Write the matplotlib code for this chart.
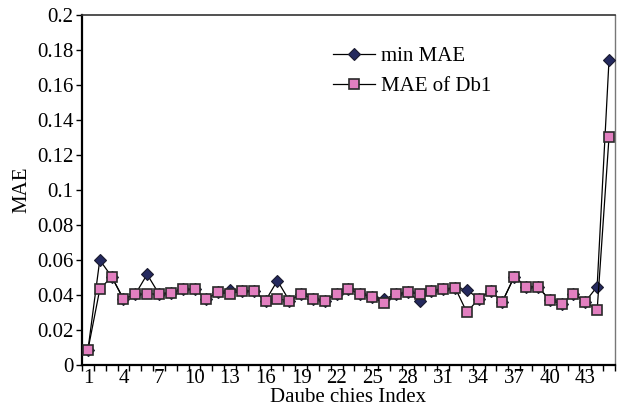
import matplotlib
matplotlib.use("Agg")
import matplotlib.pyplot as plt
import numpy as np

index = list(range(1, 46))

min_mae = [0.0086, 0.0600, 0.0505, 0.0377, 0.0404, 0.0518, 0.0406, 0.0413, 0.0432, 0.0432,
           0.0379, 0.0415, 0.0430, 0.0423, 0.0423, 0.0368, 0.0482, 0.0368, 0.0406, 0.0377,
           0.0368, 0.0406, 0.0432, 0.0406, 0.0387, 0.0375, 0.0406, 0.0415, 0.0366, 0.0425,
           0.0432, 0.0442, 0.0429, 0.0379, 0.0423, 0.0362, 0.0505, 0.0448, 0.0448, 0.0370,
           0.0350, 0.0406, 0.0362, 0.0448, 0.1740]

mae_db1 = [0.0086, 0.0432, 0.0505, 0.0377, 0.0404, 0.0406, 0.0406, 0.0413, 0.0432, 0.0432,
           0.0379, 0.0415, 0.0406, 0.0423, 0.0423, 0.0368, 0.0377, 0.0368, 0.0406, 0.0377,
           0.0368, 0.0406, 0.0432, 0.0406, 0.0387, 0.0352, 0.0406, 0.0415, 0.0406, 0.0425,
           0.0432, 0.0442, 0.0301, 0.0379, 0.0423, 0.0362, 0.0505, 0.0448, 0.0448, 0.0370,
           0.0350, 0.0406, 0.0362, 0.0314, 0.1300]

plt.rcParams['font.family'] = ['Liberation Serif', 'DejaVu Serif']

fig = plt.figure(figsize=(6.18, 4.16), dpi=100)
ax = fig.add_axes([0.1327, 0.1226, 0.8623, 0.8414])

ax.plot(index, min_mae, color="black", lw=0.9, marker="D", markersize=6.5,
        markerfacecolor="#24295e", markeredgecolor="#1a1a2e", markeredgewidth=0.8,
        label="min MAE", zorder=3)
ax.plot(index, mae_db1, color="black", lw=0.9, marker="s", markersize=7,
        markerfacecolor="#e27fc0", markeredgecolor="#2a2a2a", markeredgewidth=1.2,
        label="MAE of Db1", zorder=4)

ax.set_xlim(0.5, 45.5)
ax.set_ylim(0, 0.2)
ax.set_yticks(np.arange(0, 0.201, 0.02))
ax.set_yticklabels(["0", "0.02", "0.04", "0.06", "0.08", "0.1", "0.12", "0.14",
                    "0.16", "0.18", "0.2"])
ax.set_xticks(range(1, 46, 3))
ax.set_xticks(np.arange(0.5, 46, 1), minor=True)
ax.tick_params(axis="x", which="major", length=0, labelsize=15, pad=3)
ax.tick_params(axis="x", which="minor", length=4, width=1, direction="out")
ax.tick_params(axis="y", length=4, width=1, direction="out", labelsize=15, pad=2)

for side in ["left", "bottom"]:
    ax.spines[side].set_linewidth(1.6)
    ax.spines[side].set_color("black")
ax.spines["top"].set_linewidth(1.2)
ax.spines["top"].set_color("#333333")
ax.spines["right"].set_linewidth(1.0)
ax.spines["right"].set_color("#777777")

ax.set_xlabel("Daube chies Index", fontsize=15, labelpad=0)
ax.set_ylabel("MAE", fontsize=15, labelpad=4)

ax.legend(loc="upper left", bbox_to_anchor=(0.452, 0.94), frameon=False, fontsize=15,
          handlelength=2.0, handletextpad=0.3, labelspacing=0.5, borderpad=0)

fig.savefig("out.png", dpi=100)
plt.close(fig)
